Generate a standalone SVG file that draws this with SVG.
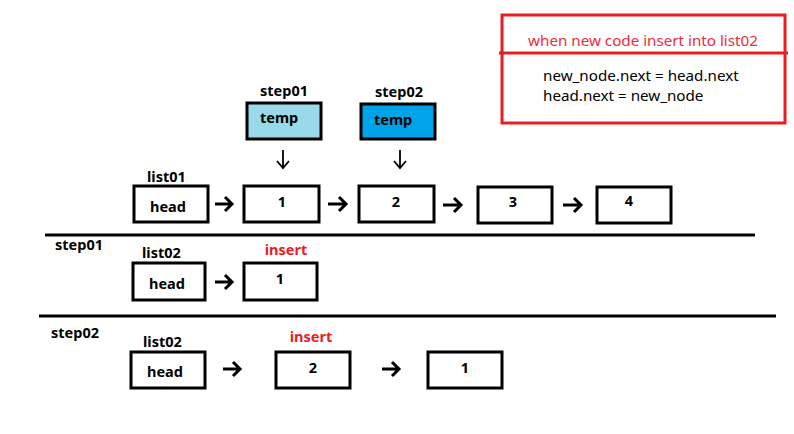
<svg xmlns="http://www.w3.org/2000/svg" width="794" height="434" viewBox="0 0 794 434">
<style>
.box{fill:#fff;stroke:#000;stroke-width:3}
.b{font-family:"Noto Sans","Liberation Sans",sans-serif;font-weight:bold;font-size:14.5px;fill:#000}
.r{font-family:"Noto Sans","Liberation Sans",sans-serif;font-size:15.2px}
.arr{fill:none;stroke:#000;stroke-width:3}
.darr{fill:none;stroke:#000;stroke-width:1.8}
.sep{stroke:#000;stroke-width:3}
</style>
<rect width="794" height="434" fill="#fff"/>
<g id="note">
<rect x="502" y="15" width="283" height="108" fill="none" stroke="#ed1c24" stroke-width="3"/>
<line x1="499" y1="53" x2="788" y2="53" stroke="#ed1c24" stroke-width="3"/>
<text class="r" x="643" y="46" text-anchor="middle" fill="#ef2b3c">when new code insert into list02</text>
<text class="r" x="543" y="81" fill="#000">new_node.next = head.next</text>
<text class="r" x="543" y="101" fill="#000">head.next = new_node</text>
</g>
<g id="temp1">
<text class="b" x="284" y="96" text-anchor="middle">step01</text>
<rect x="247" y="103" width="74" height="36" fill="#99d9ea" stroke="#000" stroke-width="3"/>
<text class="b" x="260" y="123">temp</text>
</g>
<g id="temp2">
<text class="b" x="399" y="97" text-anchor="middle">step02</text>
<rect x="361" y="104" width="74" height="35" fill="#00a2e8" stroke="#000" stroke-width="3"/>
<text class="b" x="374" y="125">temp</text>
</g>
<g id="r1-head">
<text class="b" x="147" y="182">list01</text>
<rect class="box" x="134" y="186" width="74" height="36"/>
<text class="b" x="168" y="212" text-anchor="middle">head</text>
</g>
<g id="r1-n1"><rect class="box" x="244" y="186" width="75" height="36"/><text class="b" x="282" y="207" text-anchor="middle">1</text></g>
<g id="r1-n2"><rect class="box" x="359" y="186" width="75" height="36"/><text class="b" x="396" y="207" text-anchor="middle">2</text></g>
<g id="r1-n3"><rect class="box" x="478" y="187" width="74" height="36"/><text class="b" x="513" y="207" text-anchor="middle">3</text></g>
<g id="r1-n4"><rect class="box" x="597" y="187" width="74" height="36"/><text class="b" x="629" y="206" text-anchor="middle">4</text></g>
<g id="step01-label"><text class="b" x="55" y="250">step01</text></g>
<g id="r2-head">
<text class="b" x="142" y="258">list02</text>
<rect class="box" x="133" y="263" width="72" height="37"/>
<text class="b" x="167" y="289" text-anchor="middle">head</text>
</g>
<g id="r2-n1">
<text class="b" x="286" y="255" text-anchor="middle" style="fill:#ed1c24">insert</text>
<rect class="box" x="244" y="263" width="73" height="37"/>
<text class="b" x="280" y="284" text-anchor="middle">1</text>
</g>
<g id="step02-label"><text class="b" x="51" y="338">step02</text></g>
<g id="r3-head">
<text class="b" x="143" y="347">list02</text>
<rect class="box" x="131" y="352" width="74" height="36"/>
<text class="b" x="165" y="377" text-anchor="middle">head</text>
</g>
<g id="r3-n2">
<text class="b" x="311" y="342" text-anchor="middle" style="fill:#ed1c24">insert</text>
<rect class="box" x="276" y="352" width="74" height="36"/>
<text class="b" x="313" y="373" text-anchor="middle">2</text>
</g>
<g id="r3-n1"><rect class="box" x="428" y="352" width="74" height="36"/><text class="b" x="465" y="373" text-anchor="middle">1</text></g>
<g id="connectors">
<line class="sep" x1="45" y1="235" x2="755" y2="235"/>
<line class="sep" x1="39" y1="316" x2="776" y2="316"/>
<path class="darr" d="M283 150V168M277 161L283 168L289 161"/>
<path class="darr" d="M400 150V168M394 161L400 168L406 161"/>
<path class="arr" d="M215 204H232M225 197L232 204L225 211"/>
<path class="arr" d="M328 204H346M339 197L346 204L339 211"/>
<path class="arr" d="M443 205H461M454 198L461 205L454 212"/>
<path class="arr" d="M563 205H581M574 198L581 205L574 212"/>
<path class="arr" d="M215 282H232M225 275L232 282L225 289"/>
<path class="arr" d="M223 369H240M233 362L240 369L233 376"/>
<path class="arr" d="M382 369H399M392 362L399 369L392 376"/>
</g>
</svg>
